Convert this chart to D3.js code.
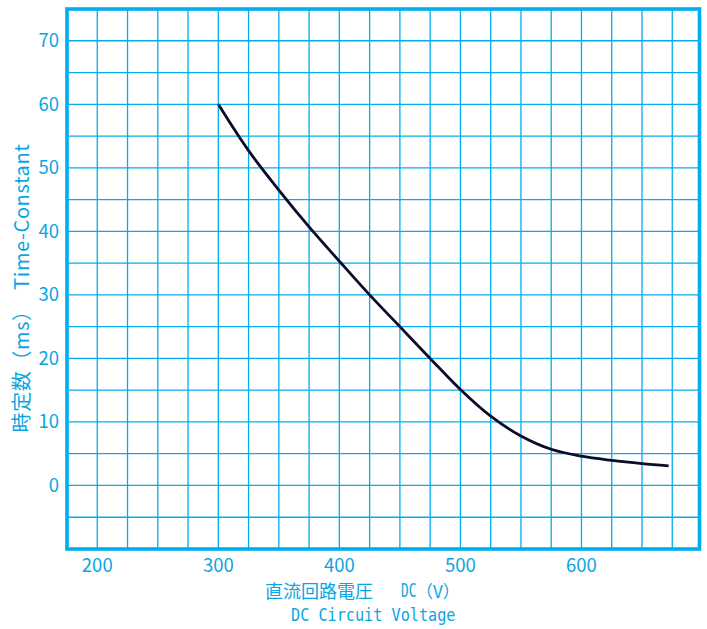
<!DOCTYPE html>
<html>
<head>
<meta charset="utf-8">
<script src="https://cdn.jsdelivr.net/npm/d3@7"></script>
<style>
  body { margin: 0; background: #fff; }
  svg { display: block; }
</style>
</head>
<body>
<div id="chart"></div>
<script>
    // Data
    var voltage = [300, 325, 350, 375, 400, 425, 450, 475, 500, 525, 550, 575, 600, 625, 650, 672];
    var timeConstant = [60, 52.7, 46.5, 40.7, 35.3, 30, 25, 20, 15.1, 10.9, 7.8, 5.7, 4.6, 3.95, 3.45, 3.1];
    var xTicks = [200, 300, 400, 500, 600];
    var yTicks = [0, 10, 20, 30, 40, 50, 60, 70];
    var yLabel = "時定数（ms）　Time-Constant";
    var xLabelJa = "直流回路電圧";
    var xLabelUnit = "DC";
    var xLabelParen = "（V）";
    var xLabelEn = "DC Circuit Voltage";

    var blue = "#00aeef";
    var textBlue = "#0aa6e2";
    var W = 707, H = 629;
    var plot = { left: 67, top: 9, right: 699.5, bottom: 549 };

    var svg = d3.select("#chart").append("svg")
        .attr("width", W)
        .attr("height", H);

    var x = d3.scaleLinear().domain([175, 697.5]).range([plot.left, plot.right]);
    var y = d3.scaleLinear().domain([-10, 75]).range([plot.bottom, plot.top]);

    // Grid every 25 V and every 5 ms
    var xGrid = d3.range(200, 697, 25);
    var yGrid = d3.range(-5, 75, 5);

    var grid = svg.append("g");
    grid.selectAll(".vgrid")
        .data(xGrid)
        .enter()
        .append("line").attr("class", "vgrid")
        .attr("x1", function(d) { return x(d); })
        .attr("x2", function(d) { return x(d); })
        .attr("y1", plot.top).attr("y2", plot.bottom)
        .attr("stroke", blue).attr("stroke-width", 1.3);
    grid.selectAll(".hgrid")
        .data(yGrid)
        .enter()
        .append("line").attr("class", "hgrid")
        .attr("y1", function(d) { return y(d); })
        .attr("y2", function(d) { return y(d); })
        .attr("x1", plot.left).attr("x2", plot.right)
        .attr("stroke", blue).attr("stroke-width", 1.3);

    // Curve
    var line = d3.line()
        .curve(d3.curveCatmullRom.alpha(0.5))
        .x(function(d, i) { return x(voltage[i]); })
        .y(function(d) { return y(d); });

    svg.append("path")
        .datum(timeConstant)
        .attr("d", line)
        .attr("fill", "none")
        .attr("stroke", "#0b0b2a")
        .attr("stroke-width", 2.8);

    // Frame
    svg.append("rect")
        .attr("x", plot.left).attr("y", plot.top)
        .attr("width", plot.right - plot.left)
        .attr("height", plot.bottom - plot.top)
        .attr("fill", "none")
        .attr("stroke", blue)
        .attr("stroke-width", 3.6);

    var font = "'Noto Sans CJK JP', 'Noto Sans', sans-serif";
    var mono = "'DejaVu Sans Mono', monospace";

    // Tick labels
    svg.append("g").selectAll("text")
        .data(yTicks)
        .enter()
        .append("text")
        .attr("x", 59)
        .attr("y", function(d) { return y(d); })
        .attr("dy", "0.34em")
        .attr("text-anchor", "end")
        .attr("fill", textBlue)
        .attr("font-family", font)
        .attr("font-size", "18.5px")
        .text(function(d) { return d; });

    svg.append("g").selectAll("text")
        .data(xTicks)
        .enter()
        .append("text")
        .attr("x", function(d) { return x(d); })
        .attr("y", 572)
        .attr("text-anchor", "middle")
        .attr("fill", textBlue)
        .attr("font-family", font)
        .attr("font-size", "18.5px")
        .text(function(d) { return d; });

    // Axis titles
    svg.append("text")
        .attr("transform", "translate(29,288) rotate(-90)")
        .attr("text-anchor", "middle")
        .attr("fill", textBlue)
        .attr("font-family", font)
        .attr("font-size", "20px")
        .attr("letter-spacing", "0.6px")
        .text(yLabel);

    svg.append("text")
        .attr("x", 265)
        .attr("y", 598)
        .attr("fill", textBlue)
        .attr("font-family", font)
        .attr("font-size", "18px")
        .text(xLabelJa);

    // tall narrow monospace look
    svg.append("text")
        .attr("transform", "translate(401,597) scale(0.85,1.25)")
        .attr("fill", textBlue)
        .attr("font-family", mono)
        .attr("font-size", "15px")
        .text(xLabelUnit);
    svg.append("text")
        .attr("x", 416)
        .attr("y", 598)
        .attr("fill", textBlue)
        .attr("font-family", font)
        .attr("font-size", "17px")
        .text(xLabelParen);

    svg.append("text")
        .attr("transform", "translate(291,621) scale(1,1.2)")
        .attr("fill", textBlue)
        .attr("font-family", mono)
        .attr("font-size", "15.2px")
        .text(xLabelEn);
</script>
</body>
</html>
